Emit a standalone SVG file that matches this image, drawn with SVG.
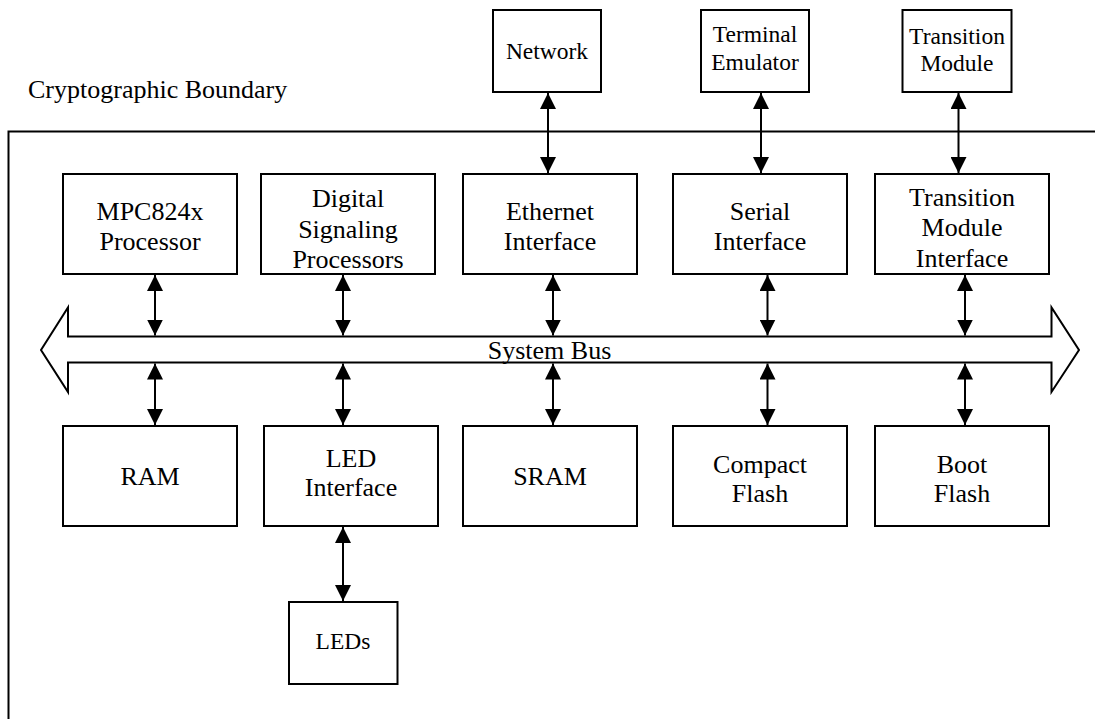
<svg xmlns="http://www.w3.org/2000/svg" width="1095" height="719" viewBox="0 0 1095 719">
<style>
  .box { fill: #fff; stroke: #000; stroke-width: 2; }
  .t { font-family: "Liberation Serif", "Times New Roman", serif; font-size: 26px; fill: #000; text-anchor: middle; }
  .s { font-family: "Liberation Serif", "Times New Roman", serif; font-size: 23.5px; fill: #000; text-anchor: middle; }
  .c { stroke: #000; stroke-width: 2; fill: none; marker-start: url(#ah); marker-end: url(#ah); }
  .bnd { stroke: #000; stroke-width: 2; fill: none; }
</style>
<defs>
  <marker id="ah" markerUnits="userSpaceOnUse" markerWidth="16" markerHeight="16" viewBox="0 0 15 15" refX="15" refY="7.5" orient="auto-start-reverse">
    <path d="M0,0 L15,7.5 L0,15 z" fill="#000"/>
  </marker>
</defs>
<rect width="1095" height="719" fill="#fff"/>

<g id="boundary">
  <path class="bnd" d="M8.5,719 L8.5,131.5 L1095,131.5"/>
  <text x="28" y="98" class="t" style="text-anchor:start">Cryptographic Boundary</text>
</g>

<g id="system-bus">
  <polygon points="41,350 68,307.5 68,336.5 1051.5,336.5 1051.5,307.5 1079,350 1051.5,392 1051.5,362.5 68,362.5 68,392" fill="#fff" stroke="#000" stroke-width="2"/>
  <text x="549.5" y="359" class="t">System Bus</text>
</g>

<g id="network">
  <rect class="box" x="493" y="10" width="108" height="82"/>
  <text x="547" y="58.5" class="s">Network</text>
</g>
<g id="terminal-emulator">
  <rect class="box" x="701" y="10" width="108" height="82"/>
  <text x="755" y="41.5" class="s">Terminal</text>
  <text x="755" y="69.5" class="s">Emulator</text>
</g>
<g id="transition-module">
  <rect class="box" x="902.5" y="10" width="109" height="82"/>
  <text x="957" y="44" class="s">Transition</text>
  <text x="957" y="71" class="s">Module</text>
</g>

<g id="mpc824x">
  <rect class="box" x="63" y="174" width="174" height="100"/>
  <text x="150" y="220" class="t">MPC824x</text>
  <text x="150" y="250" class="t">Processor</text>
</g>
<g id="dsp">
  <rect class="box" x="261" y="174" width="174" height="100"/>
  <text x="348" y="207" class="t">Digital</text>
  <text x="348" y="237.5" class="t">Signaling</text>
  <text x="348" y="268" class="t">Processors</text>
</g>
<g id="ethernet">
  <rect class="box" x="463" y="174" width="174" height="100"/>
  <text x="550" y="220" class="t">Ethernet</text>
  <text x="550" y="249.5" class="t">Interface</text>
</g>
<g id="serial">
  <rect class="box" x="673" y="174" width="174" height="100"/>
  <text x="760" y="220" class="t">Serial</text>
  <text x="760" y="250" class="t">Interface</text>
</g>
<g id="tmi">
  <rect class="box" x="875" y="174" width="174" height="100"/>
  <text x="962" y="205.5" class="t">Transition</text>
  <text x="962" y="236" class="t">Module</text>
  <text x="962" y="266.5" class="t">Interface</text>
</g>

<g id="ram">
  <rect class="box" x="63" y="426" width="174" height="100"/>
  <text x="150" y="484.5" class="t">RAM</text>
</g>
<g id="led-interface">
  <rect class="box" x="264" y="426" width="174" height="100"/>
  <text x="351" y="466.5" class="t">LED</text>
  <text x="351" y="496" class="t">Interface</text>
</g>
<g id="sram">
  <rect class="box" x="463" y="426" width="174" height="100"/>
  <text x="550" y="484.5" class="t">SRAM</text>
</g>
<g id="compact-flash">
  <rect class="box" x="673" y="426" width="174" height="100"/>
  <text x="760" y="472.5" class="t">Compact</text>
  <text x="760" y="501.5" class="t">Flash</text>
</g>
<g id="boot-flash">
  <rect class="box" x="875" y="426" width="174" height="100"/>
  <text x="962" y="472.5" class="t">Boot</text>
  <text x="962" y="501.5" class="t">Flash</text>
</g>
<g id="leds">
  <rect class="box" x="289" y="602" width="108.5" height="82"/>
  <text x="343" y="648.5" class="s">LEDs</text>
</g>

<g id="connectors">
  <line class="c" x1="548" y1="93" x2="548" y2="173"/>
  <line class="c" x1="761" y1="93" x2="761" y2="173"/>
  <line class="c" x1="958.5" y1="93" x2="958.5" y2="173"/>

  <line class="c" x1="155" y1="275" x2="155" y2="335.5"/>
  <line class="c" x1="343" y1="275" x2="343" y2="335.5"/>
  <line class="c" x1="553" y1="275" x2="553" y2="335.5"/>
  <line class="c" x1="767.5" y1="275" x2="767.5" y2="335.5"/>
  <line class="c" x1="965" y1="275" x2="965" y2="335.5"/>

  <line class="c" x1="155" y1="363.5" x2="155" y2="425"/>
  <line class="c" x1="343" y1="363.5" x2="343" y2="425"/>
  <line class="c" x1="553" y1="363.5" x2="553" y2="425"/>
  <line class="c" x1="767.5" y1="363.5" x2="767.5" y2="425"/>
  <line class="c" x1="965" y1="363.5" x2="965" y2="425"/>

  <line class="c" x1="343" y1="527" x2="343" y2="601"/>
</g>
</svg>
